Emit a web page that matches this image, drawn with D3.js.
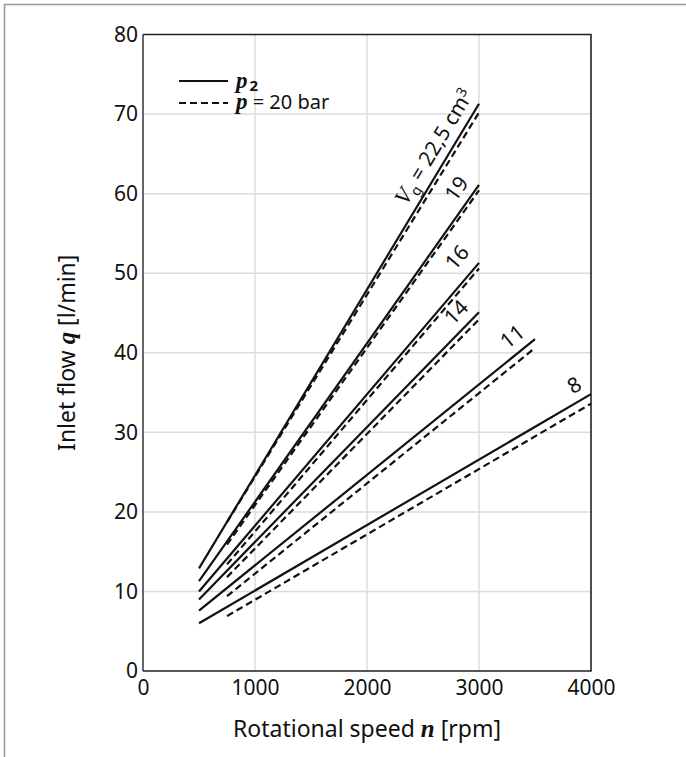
<!DOCTYPE html>
<html>
<head>
<meta charset="utf-8">
<script src="https://cdn.jsdelivr.net/npm/d3@7"></script>
<style>
body { margin: 0; background: #fff; }
text { font-family: "Noto Sans", sans-serif; fill: #111; }
.var { font-family: "Liberation Serif", serif; font-style: italic; font-weight: bold; }
</style>
</head>
<body>
<svg id="chart" width="686" height="757"></svg>
<script>
// axis ticks
const xTicks = [0, 1000, 2000, 3000, 4000];
const yTicks = [0, 10, 20, 30, 40, 50, 60, 70, 80];

// one entry per displacement Vg [cm3]
const curveLabels = ["22,5", "19", "16", "14", "11", "8"];
const speedStart = [500, 500, 500, 500, 500, 500];
const speedStartDash = [750, 750, 750, 750, 750, 750];
const speedEnd = [3000, 3000, 3000, 3000, 3500, 4000];
// inlet flow at p2 (solid)
const flowP2Start = [12.9, 11.3, 10.0, 9.0, 7.6, 6.0];
const flowP2End = [71.3, 61.1, 51.3, 45.1, 41.7, 34.8];
// inlet flow at p = 20 bar (dashed)
const flow20Start = [18.7, 15.9, 13.4, 11.8, 9.4, 6.9];
const flow20End = [70.2, 60.4, 50.6, 44.2, 40.6, 33.6];

const margin = {top: 34.5, right: 95, bottom: 86, left: 143};
const width = 686, height = 757;

const svg = d3.select("#chart");

// outer frame (left + top only)
svg.append("path")
    .attr("d", "M4.5,757 V4.5 H686")
    .attr("fill", "none")
    .attr("stroke", "#999")
    .attr("stroke-width", 1.5);

let x = d3.scaleLinear()
    .domain([0, 4000])
    .range([margin.left, width - margin.right]);

let y = d3.scaleLinear()
    .domain([0, 80])
    .range([height - margin.bottom, margin.top]);

// grid lines
svg.append("g").selectAll("line.vgrid")
    .data(xTicks.slice(1, -1))
    .enter().append("line")
    .attr("x1", d => x(d)).attr("x2", d => x(d))
    .attr("y1", y(0)).attr("y2", y(80))
    .attr("stroke", "#dcdcdc").attr("stroke-width", 1.5);

svg.append("g").selectAll("line.hgrid")
    .data(yTicks.slice(1, -1))
    .enter().append("line")
    .attr("x1", x(0)).attr("x2", x(4000))
    .attr("y1", d => y(d)).attr("y2", d => y(d))
    .attr("stroke", "#dcdcdc").attr("stroke-width", 1.5);

// axes
let xAxis = svg.append("g")
    .attr("transform", "translate(0," + y(0) + ")")
    .call(d3.axisBottom(x).tickValues(xTicks).tickFormat(d3.format("d")).tickSize(0).tickPadding(6));
let yAxis = svg.append("g")
    .attr("transform", "translate(" + x(0) + ",0)")
    .call(d3.axisLeft(y).tickValues(yTicks).tickFormat(d3.format("d")).tickSize(0).tickPadding(5));

[xAxis, yAxis].forEach(a => {
    a.select(".domain").remove();
    a.selectAll("text").style("font-family", "'Noto Sans', sans-serif").style("font-size", "21px").attr("fill", "#111");
});
xAxis.selectAll("text").attr("dy", "0.85em");

// plot box
svg.append("line").attr("x1", x(0)).attr("x2", x(0)).attr("y1", y(0)).attr("y2", y(80))
    .attr("stroke", "#666").attr("stroke-width", 2);
svg.append("path")
    .attr("d", "M" + x(0) + "," + y(80) + " H" + x(4000) + " V" + y(0) + " H" + x(0))
    .attr("fill", "none").attr("stroke", "#222").attr("stroke-width", 1.6);

// axis titles
let xTitle = svg.append("text")
    .attr("x", (x(0) + x(4000)) / 2)
    .attr("y", 737)
    .attr("text-anchor", "middle")
    .style("font-size", "23px");
xTitle.append("tspan").text("Rotational speed ");
xTitle.append("tspan").attr("class", "var").style("font-size", "25px").text("n");
xTitle.append("tspan").text(" [rpm]");

let yTitle = svg.append("text")
    .attr("transform", "translate(75," + ((y(0) + y(80)) / 2) + ") rotate(-90)")
    .attr("text-anchor", "middle")
    .style("font-size", "23px");
yTitle.append("tspan").text("Inlet flow ");
yTitle.append("tspan").attr("class", "var").style("font-size", "25px").text("q");
yTitle.append("tspan").text(" [l/min]");

// curves
const line = d3.line().x(d => x(d[0])).y(d => y(d[1]));

curveLabels.forEach((lab, i) => {
    svg.append("path")
        .datum([[speedStart[i], flowP2Start[i]], [speedEnd[i], flowP2End[i]]])
        .attr("d", line)
        .attr("fill", "none").attr("stroke", "#111").attr("stroke-width", 2.2);
    svg.append("path")
        .datum([[speedStartDash[i], flow20Start[i]], [speedEnd[i], flow20End[i]]])
        .attr("d", line)
        .attr("fill", "none").attr("stroke", "#111").attr("stroke-width", 2.2)
        .attr("stroke-dasharray", "7,4");
});

// curve labels, rotated along the solid lines
curveLabels.forEach((lab, i) => {
    let x0 = x(speedStart[i]), y0 = y(flowP2Start[i]);
    let x1 = x(speedEnd[i]), y1 = y(flowP2End[i]);
    let len = Math.hypot(x1 - x0, y1 - y0);
    let ux = (x1 - x0) / len, uy = (y1 - y0) / len;
    let nx = uy, ny = -ux;
    let back = i == 0 ? -5 : (i == 2 ? -2 : 4), off = i == 2 ? 13 : 9;
    let px = x1 - back * ux + off * nx, py = y1 - back * uy + off * ny;
    let ang = Math.atan2(y1 - y0, x1 - x0) * 180 / Math.PI;
    let t = svg.append("text")
        .attr("transform", "translate(" + px + "," + py + ") rotate(" + ang + ")")
        .attr("text-anchor", "end")
        .style("font-size", "21px");
    if (i == 0) {
        t.append("tspan").attr("class", "var").style("font-weight", "normal").style("font-size", "23px").text("V");
        t.append("tspan").attr("dy", 5).style("font-size", "14px").text("g");
        t.append("tspan").attr("dy", -5).text(" = " + lab + " cm");
        t.append("tspan").attr("dy", -7).style("font-size", "14px").text("3");
    } else {
        t.text(lab);
    }
});

// legend
const legend = svg.append("g");
legend.append("line").attr("x1", 179).attr("x2", 228).attr("y1", 81).attr("y2", 81)
    .attr("stroke", "#111").attr("stroke-width", 2.2);
legend.append("line").attr("x1", 179).attr("x2", 228).attr("y1", 103).attr("y2", 103)
    .attr("stroke", "#111").attr("stroke-width", 2.2).attr("stroke-dasharray", "7,4");
let l1 = legend.append("text").attr("x", 236).attr("y", 88).style("font-size", "20px");
l1.append("tspan").attr("class", "var").style("font-size", "23px").text("p");
l1.append("tspan").style("font-weight", "bold").style("font-size", "15px").attr("dx", 2).attr("dy", 3).text("2");
let l2 = legend.append("text").attr("x", 236).attr("y", 109).style("font-size", "20px");
l2.append("tspan").attr("class", "var").style("font-size", "23px").text("p");
l2.append("tspan").text(" = 20 bar");
</script>
</body>
</html>
